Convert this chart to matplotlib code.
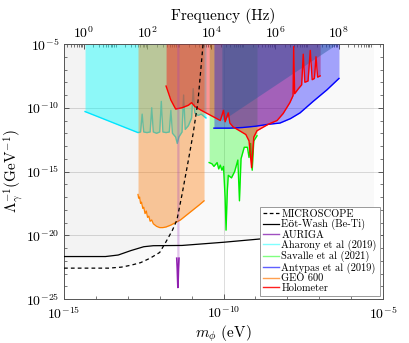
import numpy as np
import matplotlib
matplotlib.use("Agg")
import matplotlib.pyplot as plt
from matplotlib.lines import Line2D
from matplotlib.ticker import LogLocator, NullFormatter, FixedLocator, LogFormatterSciNotation

plt.rcParams['font.family'] = ['cmr10', 'DejaVu Serif']
plt.rcParams['mathtext.fontset'] = 'cm'
plt.rcParams['axes.formatter.use_mathtext'] = True

H_EVS = 4.135667e-15  # eV * s
LTOP = -5.0

# ---------------- data (log10 m [eV], log10 Lambda^-1 [GeV^-1]) ----------------
microscope_logm = [-15.0, -13.6, -13.2, -12.9, -12.6, -12.3, -12.0, -11.8, -11.6,
                   -11.46, -11.3, -11.1, -10.95, -10.8, -10.64]
microscope_logL = [-22.58, -22.58, -22.5, -22.35, -22.15, -21.8, -21.35, -20.5, -19.6,
                   -18.8, -16.8, -14.1, -12.0, -9.5, -5.0]

eotwash_logm = [-15.0, -13.7, -13.3, -12.9, -12.5, -12.2, -11.3, -10.0, -9.2, -8.0, -7.0, -5.3]
eotwash_logL = [-21.67, -21.67, -21.55, -21.2, -20.9, -20.82, -20.8, -20.55, -20.37, -20.1, -19.9, -19.6]

auriga_logm = [-11.465, -11.45, -11.44, -11.43, -11.42, -11.41, -11.395]
auriga_logL = [-21.8, -22.6, -23.4, -24.1, -23.4, -22.6, -21.8]

aharony_logm = [-14.34, -12.68, -12.60, -12.55, -12.50, -12.40, -12.30, -12.25, -12.20,
                -12.10, -12.00, -11.95, -11.90, -11.80, -11.70, -11.65, -11.60, -11.50,
                -11.45, -11.40, -11.30, -11.25, -11.20, -11.10, -11.00, -10.95, -10.90,
                -10.80, -10.70, -10.60, -10.55]
aharony_logL = [-10.3, -11.95, -11.9, -10.5, -11.9, -11.95, -11.9, -10.0, -11.9,
                -12.0, -11.9, -9.5, -11.9, -11.95, -11.9, -10.2, -12.0, -12.3,
                -12.8, -12.3, -11.9, -9.0, -11.7, -11.4, -10.8, -8.5, -10.4,
                -10.6, -10.5, -10.7, -10.8]

savalle_logm = [-10.45, -10.36, -10.30, -10.20, -10.15, -10.10, -10.05, -10.00, -9.95,
                -9.92, -9.88, -9.85, -9.75, -9.65, -9.55, -9.50, -9.45, -9.35, -9.25,
                -9.20, -9.15, -9.10, -9.05, -8.95]
savalle_logL = [-14.3, -14.4, -14.6, -14.3, -14.8, -14.5, -14.9, -14.6, -17.0,
                -19.6, -16.5, -15.3, -15.5, -15.0, -14.1, -17.3, -14.0, -13.1, -13.1,
                -13.9, -12.8, -14.9, -12.6, -12.2]

antypas_logm = [-10.30, -10.2, -9.8, -9.4, -9.0, -8.6, -8.23, -7.9, -7.6, -7.19, -6.76, -6.38]
antypas_logL = [-11.6, -11.6, -11.6, -11.55, -11.45, -11.3, -11.2, -10.85, -10.4, -9.5, -8.6, -7.7]
antypas_dense_logm = [-10.05, -6.45]
antypas_dense_logL = [-11.0, -5.0]

geo600_logm = [-12.68, -12.66, -12.63, -12.60, -12.57, -12.53, -12.50, -12.46, -12.42,
               -12.38, -12.34, -12.30, -12.25, -12.20, -12.10, -12.00, -11.90, -11.80,
               -11.65, -11.50, -11.35, -11.20, -11.05, -10.90, -10.75, -10.61]
geo600_logL = [-16.8, -17.1, -17.0, -17.5, -17.4, -17.9, -17.8, -18.3, -18.1,
               -18.6, -18.5, -18.9, -18.8, -19.1, -19.3, -19.4, -19.4, -19.35,
               -19.2, -19.0, -18.8, -18.5, -18.2, -17.9, -17.6, -17.3]

holometer_logm = [-11.8, -11.65, -11.5, -11.3, -11.1, -11.0, -10.9, -10.7, -10.55, -10.4,
                  -10.1, -10.0, -9.95, -9.85, -9.8, -9.7, -9.5, -9.3, -9.2, -9.12,
                  -9.05, -8.95, -8.6, -8.32, -8.13, -7.92, -7.82, -7.80, -7.77, -7.65,
                  -7.55, -7.50, -7.45, -7.35, -7.28, -7.22, -7.15, -7.10, -7.05, -6.97]
holometer_logL = [-8.3, -9.4, -10.1, -10.0, -9.8, -9.6, -9.9, -10.2, -10.4, -10.6,
                  -11.0, -10.2, -11.1, -10.4, -11.2, -11.5, -11.8, -12.1, -12.6, -14.7,
                  -12.3, -11.8, -11.3, -11.0, -10.45, -9.6, -9.05, -5.2, -8.9, -8.5,
                  -8.2, -5.8, -8.0, -7.9, -5.5, -7.8, -7.7, -6.0, -7.6, -7.5]

legend_labels = ['MICROSCOPE', 'Eöt-Wash (Be-Ti)', 'AURIGA', 'Aharony et al (2019)',
                 'Savalle et al (2021)', 'Antypas et al (2019)', 'GEO 600', 'Holometer']


def P(a):
    return 10.0 ** np.asarray(a, dtype=float)


fig = plt.figure(figsize=(4.09, 3.43), dpi=100)
ax = fig.add_axes([64 / 409, 44 / 343, 319 / 409, 255 / 343])
ax.set_xscale('log')
ax.set_yscale('log')
ax.set_xlim(1e-15, 1e-5)
ax.set_ylim(1e-25, 1e-5)
top = 10.0 ** LTOP

# excluded regions (light grey)
ax.fill_between(P(microscope_logm), P(microscope_logL), top, color='k', alpha=0.022, lw=0, zorder=1)
ax.fill_between(P(eotwash_logm), P(eotwash_logL), top, color='k', alpha=0.022, lw=0, zorder=1)

# Aharony (cyan)
ax.fill_between(P(aharony_logm), P(aharony_logL), top, color='#00ffff', alpha=0.42, lw=0, zorder=2)
ax.plot(P(aharony_logm), P(aharony_logL), color='#00e5ff', lw=1.0, zorder=2.1)
# GEO 600 (orange)
ax.fill_between(P(geo600_logm), P(geo600_logL), top, color='#ff7f0e', alpha=0.4, lw=0, zorder=2.2)
ax.plot(P(geo600_logm), P(geo600_logL), color='#ff8000', lw=0.9, zorder=2.3)
# Savalle (green)
ax.fill_between(P(savalle_logm), P(savalle_logL), top, color='#00ff00', alpha=0.3, lw=0, zorder=2.4)
ax.plot(P(savalle_logm), P(savalle_logL), color='#00ee00', lw=1.0, zorder=2.5)
# Holometer (red)
ax.fill_between(P(holometer_logm), P(holometer_logL), top, color='#ff0000', alpha=0.4, lw=0, zorder=2.6)
# Antypas (blue)
ax.fill_between(P(antypas_logm), P(antypas_logL), top, color='#0000ff', alpha=0.35, lw=0, zorder=2.7)
ax.fill_between(P(antypas_dense_logm), P(antypas_dense_logL), top, color='#2a5a9a', alpha=0.45, lw=0, zorder=2.8)
ax.plot(P(antypas_logm), P(antypas_logL), color='#0000ff', lw=1.0, zorder=3)
ax.plot(P(holometer_logm), P(holometer_logL), color='#ff0000', lw=1.0, zorder=3.1)
# AURIGA (purple)
ax.fill_between(P(auriga_logm), P(auriga_logL), top, color='#a040c0', alpha=0.3, lw=0, zorder=3.2)
ax.plot(P(auriga_logm), P(auriga_logL), color='#9020b0', lw=1.2, zorder=3.3)
# fifth-force lines
ax.plot(P(microscope_logm), P(microscope_logL), color='k', ls=(0, (3, 2.5)), lw=0.9, zorder=4)
ax.plot(P(eotwash_logm), P(eotwash_logL), color='k', lw=0.9, zorder=4)

# ticks and grid
ax.set_xticks([1e-15, 1e-10, 1e-5])
ax.xaxis.set_minor_locator(LogLocator(base=10, subs=(1.0,), numticks=50))
ax.xaxis.set_minor_formatter(NullFormatter())
ax.set_yticks([1e-25, 1e-20, 1e-15, 1e-10, 1e-5])
ax.yaxis.set_minor_locator(LogLocator(base=10, subs=(1.0,), numticks=50))
ax.yaxis.set_minor_formatter(NullFormatter())
ax.tick_params(which='both', direction='in', labelsize=10, right=True, color='#444444')
ax.tick_params(which='major', length=3.5, width=0.6)
ax.tick_params(which='minor', length=2, width=0.5)
ax.tick_params(axis='x', which='major', pad=4.5)
ax.grid(True, which='major', color='#dcdcdc', lw=0.7)
ax.set_axisbelow(True)
for s in ax.spines.values():
    s.set_linewidth(0.7)
    s.set_color('#555555')

ax.set_xlabel(r'$m_\phi$ (eV)', fontsize=11, labelpad=1)
ax.set_ylabel(r'$\Lambda_\gamma^{-1}$(GeV$^{-1}$)', fontsize=11)
ax.yaxis.set_label_coords(-0.118, 0.5)

sec = ax.secondary_xaxis('top', functions=(lambda m: m / H_EVS, lambda f: f * H_EVS))
sec.xaxis.set_major_locator(FixedLocator([1e0, 1e2, 1e4, 1e6, 1e8]))
sec.xaxis.set_major_formatter(LogFormatterSciNotation(base=10))
sec.xaxis.set_minor_locator(LogLocator(base=10, subs=np.arange(1, 10), numticks=100))
sec.xaxis.set_minor_formatter(NullFormatter())
sec.tick_params(which='both', direction='in', labelsize=10, color='#444444')
sec.tick_params(which='major', length=3.5, width=0.6, pad=2)
sec.tick_params(which='minor', length=2, width=0.5)
sec.set_xlabel('Frequency (Hz)', fontsize=11, labelpad=4)
sec.spines['top'].set_linewidth(0.7)

handles = [
    Line2D([], [], color='k', ls=(0, (3, 2)), lw=0.9),
    Line2D([], [], color='k', lw=0.9),
    Line2D([], [], color='#a050c0', lw=1.0),
    Line2D([], [], color='#80ffff', lw=1.0),
    Line2D([], [], color='#80ff80', lw=1.0),
    Line2D([], [], color='#6060ff', lw=1.0),
    Line2D([], [], color='#ffa050', lw=1.0),
    Line2D([], [], color='#ff2020', lw=1.0),
]
leg = ax.legend(handles, legend_labels, loc='lower right', fontsize=7.5, frameon=True,
                fancybox=False, edgecolor='#999999', framealpha=1.0, labelspacing=0.0,
                handlelength=1.6, handletextpad=0.2, borderpad=0.3, borderaxespad=0.3)
leg.get_frame().set_linewidth(0.7)
leg.set_zorder(10)

fig.savefig('out.png', dpi=100)
